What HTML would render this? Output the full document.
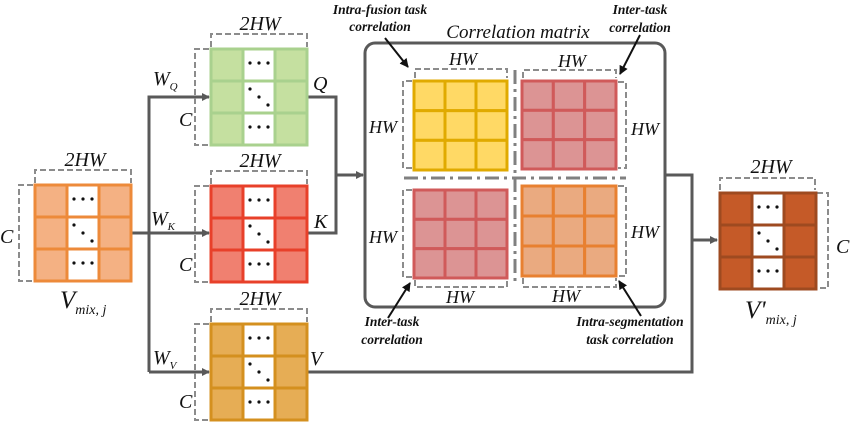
<!DOCTYPE html>
<html><head><meta charset="utf-8"><style>
html,body{margin:0;padding:0;background:#fff;width:852px;height:439px;overflow:hidden}
svg{display:block}
text{font-family:"Liberation Serif",serif;font-style:italic;fill:#111}
.lab{font-size:20px}
.ann{font-size:13.5px;font-weight:bold}
</style></head><body>
<svg id="s" width="852" height="439" viewBox="0 0 852 439" xmlns="http://www.w3.org/2000/svg">
<defs>
<marker id="ag" markerWidth="8" markerHeight="8" refX="7" refY="4" orient="auto" markerUnits="userSpaceOnUse"><path d="M0,0 L8,4 L0,8 Z" fill="#595959"/></marker>
<marker id="ab" markerWidth="9" markerHeight="9" refX="8" refY="4.5" orient="auto" markerUnits="userSpaceOnUse"><path d="M0,0 L9,4.5 L0,9 Z" fill="#111"/></marker>
</defs>
<g fill="none" stroke="#595959" stroke-width="3">
<path d="M130,233 H209" marker-end="url(#ag)"/>
<path d="M149,372 V97 H209" marker-end="url(#ag)"/>
<path d="M149,372 H209" marker-end="url(#ag)"/>
<path d="M307,97 H336 V233 H307"/>
<path d="M336,175 H363" marker-end="url(#ag)"/>
<path d="M665,175 H692 V240 H717" marker-end="url(#ag)"/>
<path d="M307,372 H692 V240"/>
</g>
<rect x="365" y="43" width="300" height="264" rx="10" fill="none" stroke="#595959" stroke-width="3"/>
<g fill="none" stroke="#808080" stroke-width="3" stroke-dasharray="14,5,3,5">
<path d="M404,178 H626"/><path d="M515,70 V283"/>
</g>
<g id="grids"></g>
<g fill="none" stroke="#111" stroke-width="2">
<path d="M385,38 L408,67" marker-end="url(#ab)"/>
<path d="M640,35 L620,74" marker-end="url(#ab)"/>
<path d="M388,318 L410,283" marker-end="url(#ab)"/>
<path d="M641,316 L619,281" marker-end="url(#ab)"/>
</g>
<g class="lab">
<text x="85" y="166" text-anchor="middle">2HW</text>
<text x="0" y="243">C</text>
<text x="60" y="308" font-size="25">V<tspan font-size="14" dy="6">mix, j</tspan></text>
<text x="260" y="30" text-anchor="middle">2HW</text>
<text x="260" y="167" text-anchor="middle">2HW</text>
<text x="260" y="305" text-anchor="middle">2HW</text>
<text x="179" y="126">C</text>
<text x="179" y="271">C</text>
<text x="179" y="408">C</text>
<text x="153" y="85">W<tspan font-size="11" dy="5">Q</tspan></text>
<text x="151" y="225">W<tspan font-size="11" dy="5">K</tspan></text>
<text x="153" y="364">W<tspan font-size="11" dy="5">V</tspan></text>
<text x="313" y="90">Q</text>
<text x="314" y="228">K</text>
<text x="310" y="365">V</text>
<text x="518" y="38" text-anchor="middle" font-size="19">Correlation matrix</text>
<text x="463" y="65" text-anchor="middle" font-size="18">HW</text>
<text x="572" y="67" text-anchor="middle" font-size="18">HW</text>
<text x="383" y="133" text-anchor="middle" font-size="18">HW</text>
<text x="645" y="135" text-anchor="middle" font-size="18">HW</text>
<text x="383" y="243" text-anchor="middle" font-size="18">HW</text>
<text x="645" y="238" text-anchor="middle" font-size="18">HW</text>
<text x="460" y="303" text-anchor="middle" font-size="18">HW</text>
<text x="566" y="302" text-anchor="middle" font-size="18">HW</text>
<text x="771" y="173" text-anchor="middle">2HW</text>
<text x="836" y="253">C</text>
<text x="745" y="318" font-size="25">V'<tspan font-size="14" dy="6">mix, j</tspan></text>
</g>
<g class="ann" text-anchor="middle">
<text x="380" y="14">Intra-fusion task</text>
<text x="380" y="31">correlation</text>
<text x="640" y="14">Inter-task</text>
<text x="640" y="32">correlation</text>
<text x="392" y="326">Inter-task</text>
<text x="392" y="344">correlation</text>
<text x="630" y="326">Intra-segmentation</text>
<text x="630" y="344">task correlation</text>
</g>
</svg>
<script>
var NS="http://www.w3.org/2000/svg",g=document.getElementById("grids");
function el(t,a){var e=document.createElementNS(NS,t);for(var k in a)e.setAttribute(k,a[k]);g.appendChild(e);return e;}
function dash(d){el("path",{d:d,fill:"none",stroke:"#8c8c8c","stroke-width":2,"stroke-dasharray":"6,3"});}
function grid(x,y,w,h,fill,stroke,dots){
 var cw=w/3,ch=h/3;
 for(var r=0;r<3;r++)for(var c=0;c<3;c++){
  var f=(dots&&c==1)?"#fff":fill;
  el("rect",{x:x+c*cw,y:y+r*ch,width:cw,height:ch,fill:f,stroke:stroke,"stroke-width":3});
 }
 if(dots){
  var cx=x+cw*1.5;
  [0,2].forEach(function(r){for(var i=-1;i<=1;i++)el("circle",{cx:cx+i*9,cy:y+r*ch+ch/2-2,r:1.6,fill:"#111"});});
  for(var i=-1;i<=1;i++)el("circle",{cx:cx+i*9,cy:y+ch*1.5+i*8,r:1.6,fill:"#111"});
 }
}
function mat(x,y,fill,stroke){
 dash("M"+x+","+(y-2)+" V"+(y-15)+" H"+(x+96)+" V"+(y-2));
 dash("M"+(x-2)+","+y+" H"+(x-16)+" V"+(y+96)+" H"+(x-2));
 grid(x,y,96,96,fill,stroke,true);
}
mat(35,185,"#f4b183","#ed8a3a");
mat(211,49,"#c5e0a0","#a9d18e");
mat(211,186,"#f08070","#e8402a");
mat(211,324,"#e6ad55","#d4901f");
dash("M720,190 V178 H815 V190");
dash("M817,193 H828 V288 H817");
grid(720,193,96,96,"#c55a28","#9e4a20",true);
dash("M415,78 V69 H507 V78"); dash("M412,81 H403 V168 H412");
grid(414,81,93,89,"#ffd965","#e0aa00",false);
dash("M523,78 V70 H616 V78"); dash("M618,82 H626 V168 H618");
grid(522,81,94,88,"#dc9494","#d05a5a",false);
dash("M412,190 H403 V277 H412"); dash("M415,280 V287 H507 V280");
grid(414,190,93,88,"#dc9494","#d05a5a",false);
dash("M618,186 H626 V276 H618"); dash("M523,278 V287 H616 V278");
grid(522,186,94,90,"#eaaa80","#e88030",false);
</script>
</body></html>
